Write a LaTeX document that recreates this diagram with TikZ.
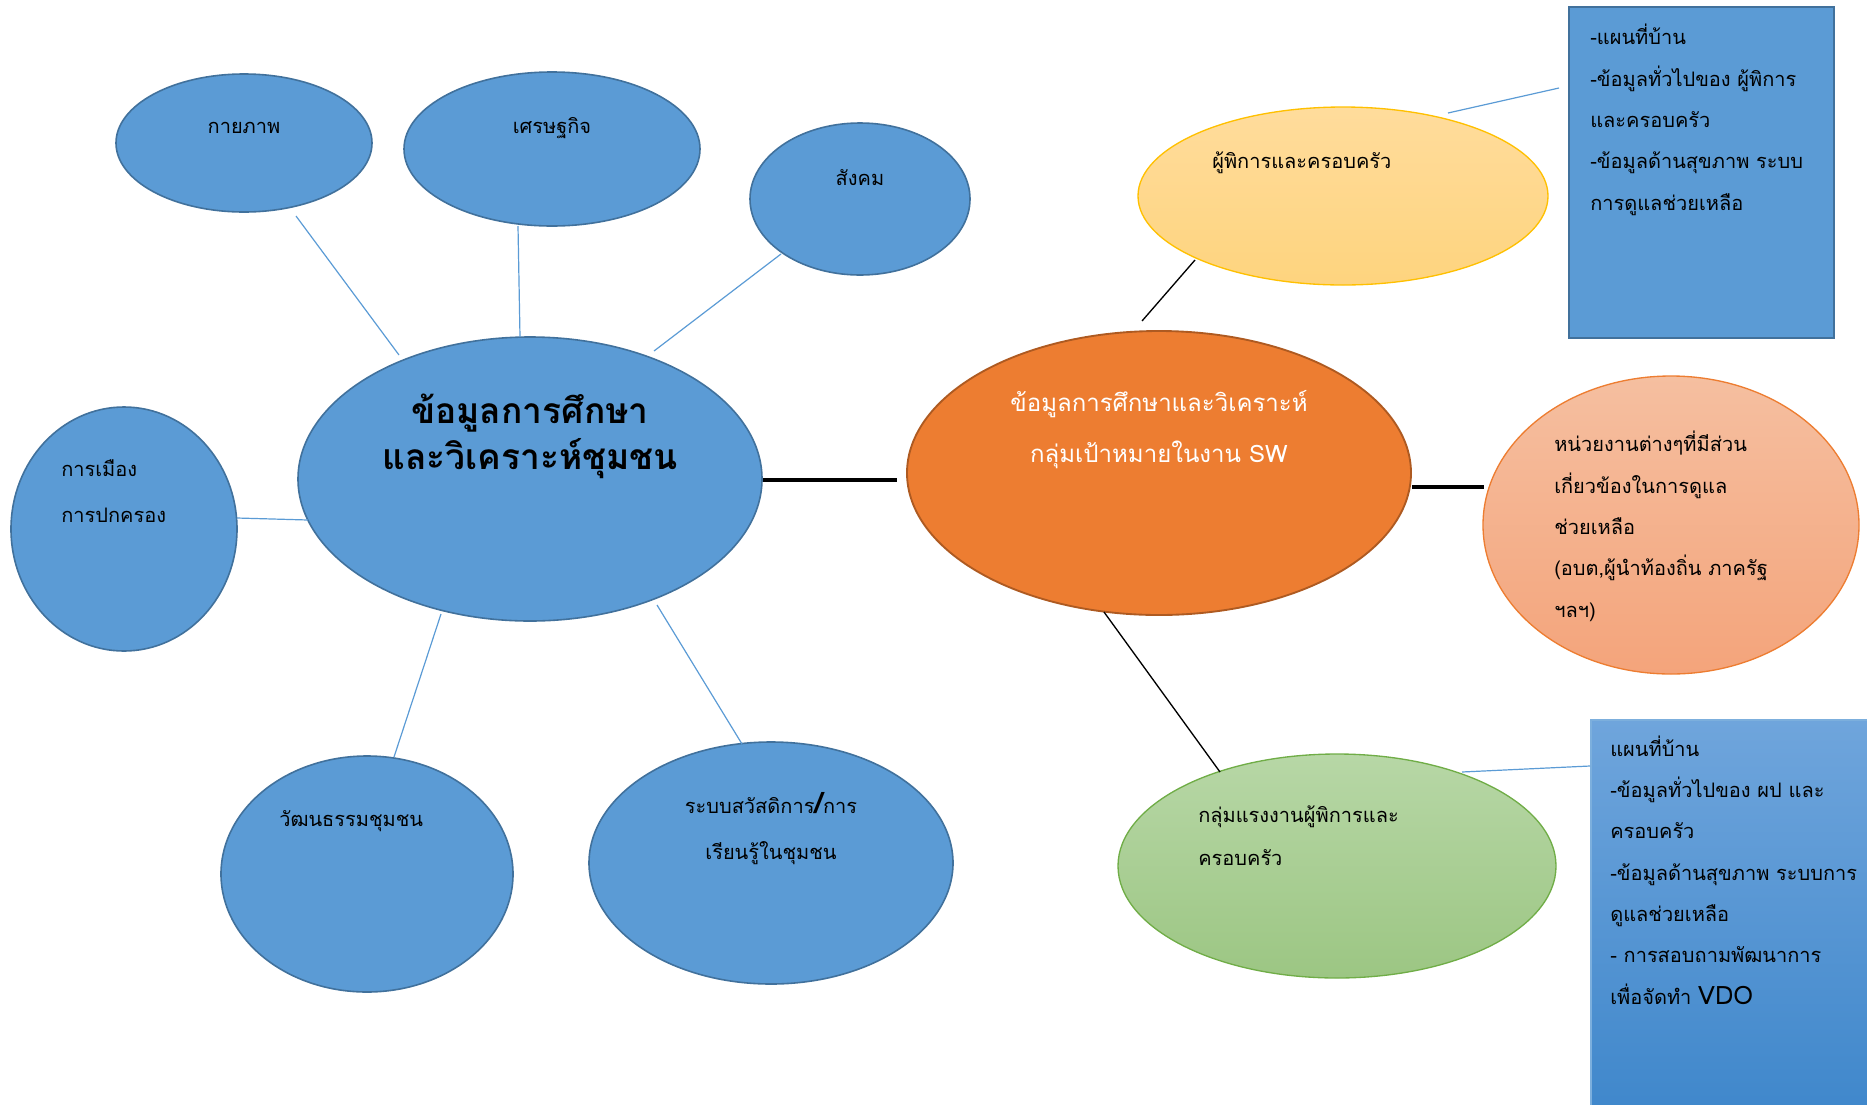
\documentclass[tikz,border=0pt]{standalone}
\usepackage{fontspec}
\newfontfamily\thai[Script=Thai]{Loma}
\usetikzlibrary{shapes.geometric}
\definecolor{blu}{HTML}{5B9BD5}
\definecolor{bluedge}{HTML}{41719C}
\definecolor{org}{HTML}{ED7D31}
\definecolor{orgedge}{HTML}{AE5A21}
\definecolor{yeltop}{HTML}{FFDC9C}
\definecolor{yelbot}{HTML}{FED47E}
\definecolor{yeledge}{HTML}{FFC000}
\definecolor{saltop}{HTML}{F5BFA0}
\definecolor{salbot}{HTML}{F4A47B}
\definecolor{grntop}{HTML}{B7D7A6}
\definecolor{grnbot}{HTML}{9CC683}
\definecolor{grnedge}{HTML}{70AD47}
\definecolor{bbtop}{HTML}{6FA5DC}
\definecolor{bbbot}{HTML}{3F87CB}
\begin{document}
\begin{tikzpicture}[x=0.75pt,y=-0.75pt,
  bub/.style={ellipse, draw=bluedge, fill=blu, line width=1.2pt, inner sep=0pt, outer sep=0pt},
  txt/.style={font=\thai\fontsize{15}{31}\selectfont, inner sep=0pt, align=left},
  wide/.style={font=\thai\fontsize{15}{34}\selectfont},
  link/.style={draw=blu, line width=0.9pt},
  heavy link/.style={draw=black, line width=2.4pt},
  thin link/.style={draw=black, line width=1pt}]
\path[use as bounding box] (0,0) rectangle (1867,1104);
\clip (0,0) rectangle (1867,1104);

% connectors (drawn first)
\coordinate (k1) at (296,216); \coordinate (k2) at (399,355);
\coordinate (s1) at (518,226); \coordinate (s2) at (520,337);
\coordinate (g1) at (781,254); \coordinate (g2) at (654,351);
\coordinate (m1) at (237,518); \coordinate (m2) at (308,520);
\coordinate (w1) at (441,614); \coordinate (w2) at (394,757);
\coordinate (r1) at (657,605); \coordinate (r2) at (742,744);
\coordinate (h1) at (763,480); \coordinate (h2) at (897,480);
\coordinate (y1) at (1142,321); \coordinate (y2) at (1195,260);
\coordinate (p1) at (1412,487); \coordinate (p2) at (1484,487);
\coordinate (n1) at (1104,612); \coordinate (n2) at (1220,772);
\coordinate (t1) at (1448,113); \coordinate (t2) at (1559,88);
\coordinate (b1) at (1462,772); \coordinate (b2) at (1590,766);

% left cluster
\node[bub, minimum width=192pt, minimum height=103.5pt] (kaya) at (244,143) {};
\node[bub, minimum width=222pt, minimum height=115.5pt] (sed) at (552,149) {};
\node[bub, minimum width=165pt, minimum height=114pt] (sang) at (860,199) {};
\node[bub, minimum width=348pt, minimum height=213pt] (main) at (530,479) {};
\node[bub, minimum width=169.5pt, minimum height=183pt] (muang) at (124,529) {};
\node[bub, minimum width=219pt, minimum height=177pt] (wat) at (367,874) {};
\node[bub, minimum width=273pt, minimum height=181.5pt] (rabob) at (771,863) {};

\draw[link] (k1) -- (k2);
\draw[link] (s1) -- (s2);
\draw[link] (g1) -- (g2);
\draw[link] (m1) -- (m2);
\draw[link] (w1) -- (w2);
\draw[link] (r1) -- (r2);
\draw[heavy link] (h1) -- (h2);

% right cluster
\node[ellipse, draw=orgedge, fill=org, line width=1.4pt, inner sep=0pt, minimum width=378pt, minimum height=213pt] (sw) at (1159,473) {};
\node[ellipse, draw=yeledge, top color=yeltop, bottom color=yelbot, line width=1pt, inner sep=0pt, minimum width=307.5pt, minimum height=133.5pt] (fam) at (1343,196) {};
\node[ellipse, draw=org, top color=saltop, bottom color=salbot, line width=1pt, inner sep=0pt, minimum width=282pt, minimum height=223.5pt] (unit) at (1671,525) {};
\node[ellipse, draw=grnedge, top color=grntop, bottom color=grnbot, line width=1pt, inner sep=0pt, minimum width=328.5pt, minimum height=168pt] (work) at (1337,866) {};
\node[rectangle, draw=bluedge, fill=blu, line width=1.8pt, inner sep=0pt, minimum width=198.75pt, minimum height=248.25pt] (topbox) at (1701.5,172.5) {};
\node[rectangle, draw=blu!80!white, top color=bbtop, bottom color=bbbot, line width=1pt, inner sep=0pt, minimum width=216.75pt, minimum height=296.25pt] (botbox) at (1735.5,917.5) {};

\draw[thin link] (y1) -- (y2);
\draw[heavy link] (p1) -- (p2);
\draw[thin link] (n1) -- (n2);
\draw[link] (t1) -- (t2);
\draw[link] (b1) -- (b2);

% texts (multi-line nodes are placed by the baseline of their last line)
\node[txt, anchor=base] (tkaya) at (244,133) {กายภาพ};
\node[txt, anchor=base] (tsed) at (552,133) {เศรษฐกิจ};
\node[txt, anchor=base] (tsang) at (860,185) {สังคม};
\node[txt, align=center, anchor=base, font=\thai\bfseries\fontsize{26.5}{34}\selectfont] (tmain) at (530,469) {ข้อมูลการศึกษา\\และวิเคราะห์ชุมชน};
\node[txt, wide, anchor=base west] (tmuang) at (61,522) {การเมือง\\การปกครอง};
\node[txt, anchor=base west] (twat) at (279,826) {วัฒนธรรมชุมชน};
\node[txt, wide, align=center, anchor=base] (trabob) at (771,859) {ระบบสวัสดิการ{\fontsize{22}{34}\selectfont\bfseries/}การ\\เรียนรู้ในชุมชน};
\node[txt, align=center, anchor=base, text=white, font=\thai\fontsize{18}{38}\selectfont] (tsw) at (1159,462) {ข้อมูลการศึกษาและวิเคราะห์\\กลุ่มเป้าหมายในงาน SW};
\node[txt, anchor=base west] (tfam) at (1212,168) {ผู้พิการและครอบครัว};
\node[txt, anchor=base west] (ttop) at (1590,210) {-แผนที่บ้าน\\-ข้อมูลทั่วไปของ ผู้พิการ\\และครอบครัว\\-ข้อมูลด้านสุขภาพ ระบบ\\การดูแลช่วยเหลือ};
\node[txt, anchor=base west] (tunit) at (1554,617) {หน่วยงานต่างๆที่มีส่วน\\เกี่ยวข้องในการดูแล\\ช่วยเหลือ\\(อบต,ผู้นำท้องถิ่น ภาครัฐ\\ฯลฯ)};
\node[txt, anchor=base west, font=\thai\fontsize{15}{32}\selectfont] (twork) at (1198,865) {กลุ่มแรงงานผู้พิการและ\\ครอบครัว};
\node[txt, anchor=base west] (tbot) at (1610,1004) {แผนที่บ้าน\\-ข้อมูลทั่วไปของ ผป และ\\ครอบครัว\\-ข้อมูลด้านสุขภาพ ระบบการ\\ดูแลช่วยเหลือ\\- การสอบถามพัฒนาการ\\เพื่อจัดทำ {\fontsize{19}{31}\selectfont VDO}};
\end{tikzpicture}
\end{document}
